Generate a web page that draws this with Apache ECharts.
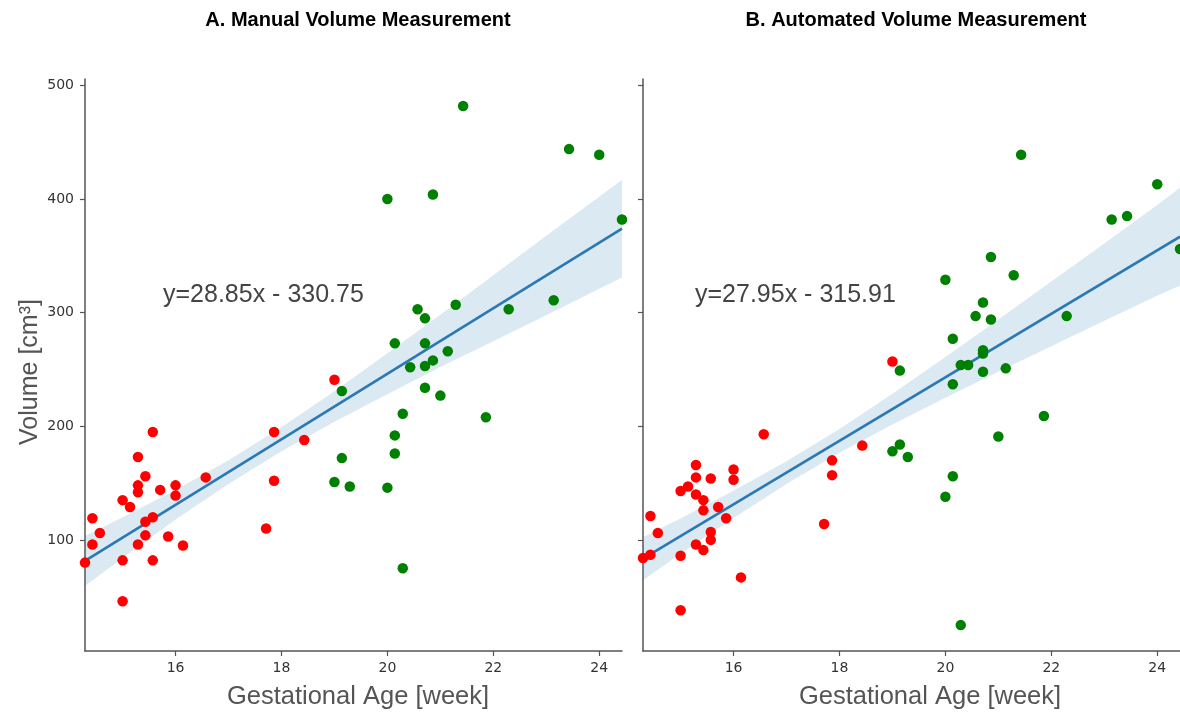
<!DOCTYPE html>
<html>
<head>
<meta charset="utf-8">
<script src="https://cdn.jsdelivr.net/npm/echarts@6/dist/echarts.min.js"></script>
<style>
  html, body { margin: 0; padding: 0; background: #ffffff; }
  #chart { width: 1180px; height: 715px; }
</style>
</head>
<body>
<div id="chart"></div>
<script>
// Axis ticks
const weekTicks = [16, 18, 20, 22, 24];
const volumeTicks = [100, 200, 300, 400, 500];

// Panel titles and fitted lines
const panelTitles = ['A. Manual Volume Measurement', 'B. Automated Volume Measurement'];
const fitSlope = [28.85, 27.95];
const fitIntercept = [-330.75, -315.91];

// Manual measurement: [gestational week, volume cm3]
const manualEarly = [
  [14.29, 80], [14.43, 119], [14.43, 96], [14.57, 106], [15.00, 135], [15.00, 82], [15.00, 46],
  [15.14, 129], [15.29, 173], [15.29, 148], [15.29, 142], [15.29, 96], [15.43, 156], [15.43, 116],
  [15.43, 104], [15.57, 195], [15.57, 120], [15.57, 82], [15.71, 144], [15.86, 103], [16.00, 148],
  [16.00, 139], [16.14, 95], [16.57, 155], [17.71, 110], [17.86, 195], [17.86, 152], [18.43, 188],
  [19.00, 241]
];
const manualLate = [
  [19.00, 151], [19.14, 231], [19.14, 172], [19.29, 147], [20.00, 400], [20.00, 146], [20.14, 273],
  [20.14, 192], [20.14, 176], [20.29, 211], [20.29, 75], [20.43, 252], [20.57, 303], [20.71, 295],
  [20.71, 273], [20.71, 253], [20.71, 234], [20.86, 404], [20.86, 258], [21.00, 227], [21.14, 266],
  [21.29, 307], [21.43, 482], [21.86, 208], [22.29, 303], [23.14, 311], [23.43, 444], [24.00, 439],
  [24.43, 382]
];

// Automated measurement: [gestational week, volume cm3]
const autoEarly = [
  [14.29, 84], [14.43, 87], [14.43, 121], [14.57, 106], [15.00, 143], [15.14, 147], [15.00, 86],
  [15.00, 38], [15.29, 166], [15.29, 155], [15.29, 140], [15.29, 96], [15.43, 135], [15.43, 126],
  [15.43, 91], [15.57, 154], [15.57, 107], [15.57, 100], [15.71, 129], [15.86, 119], [16.00, 162],
  [16.00, 153], [16.14, 67], [16.57, 193], [17.71, 114], [17.86, 170], [17.86, 157], [18.43, 183],
  [19.00, 257]
];
const autoLate = [
  [19.00, 178], [19.14, 249], [19.14, 184], [19.29, 173], [20.00, 329], [20.00, 138], [20.14, 277],
  [20.14, 237], [20.14, 156], [20.29, 254], [20.29, 25], [20.43, 254], [20.57, 297], [20.71, 309],
  [20.71, 267], [20.71, 264], [20.71, 248], [20.86, 349], [20.86, 294], [21.00, 191], [21.14, 251],
  [21.29, 333], [21.43, 439], [21.86, 209], [22.29, 297], [23.14, 382], [23.43, 385], [24.00, 413],
  [24.43, 356]
];

// Confidence band half-widths (cm3) around each fitted line
const bandWeeks = [14.29, 15, 16, 17, 18, 19, 20, 21, 22, 23, 24, 24.43];
const manualBandHalf = [22, 18, 13, 10.5, 10.5, 13.5, 18, 23, 29, 35, 40.5, 43];
const autoBandHalf = [19, 15.5, 12, 10, 10.5, 13.5, 18, 23, 28.5, 34, 40, 43];

const WEEK_MIN = 14.29, WEEK_MAX = 24.43;
const VOL_MIN = 2.2, VOL_MAX = 505.7;

const axisColor = '#555555';
const tickFont = { fontFamily: 'DejaVu Sans', fontSize: 14, color: '#333333' };
const sansFont = 'Liberation Sans, Arial, Helvetica, sans-serif';

function fitAt(p, w) { return fitSlope[p] * w + fitIntercept[p]; }

function makeXAxis(idx) {
  return {
    type: 'value', gridIndex: idx, min: WEEK_MIN, max: WEEK_MAX,
    axisLine: { show: true, onZero: false, lineStyle: { color: axisColor, width: 1.5 } },
    axisTick: { show: true, length: 5, customValues: weekTicks, lineStyle: { color: axisColor, width: 1.2 } },
    axisLabel: Object.assign({ show: true, margin: 10, customValues: weekTicks }, tickFont),
    splitLine: { show: false }
  };
}
function makeYAxis(idx, showLabels) {
  return {
    type: 'value', gridIndex: idx, min: VOL_MIN, max: VOL_MAX,
    axisLine: { show: true, onZero: false, lineStyle: { color: axisColor, width: 1.5 } },
    axisTick: { show: true, length: 5, customValues: volumeTicks, lineStyle: { color: axisColor, width: 1.2 } },
    axisLabel: Object.assign({ show: showLabels, margin: 11, customValues: volumeTicks }, tickFont),
    splitLine: { show: false }
  };
}

// Shaded confidence band: one polygon built from the upper and lower edges
function bandSeries(p, halfArr) {
  const rows = bandWeeks.map((w, i) => [w, fitAt(p, w) - halfArr[i], fitAt(p, w) + halfArr[i]]);
  return {
    type: 'custom', xAxisIndex: p, yAxisIndex: p, silent: true, clip: true, z: 1,
    data: rows,
    encode: { x: 0, y: [1, 2] },
    renderItem: function (params, api) {
      if (params.dataIndex !== 0) return null;
      const upper = rows.map(r => api.coord([r[0], r[2]]));
      const lower = rows.map(r => api.coord([r[0], r[1]])).reverse();
      return {
        type: 'polygon',
        shape: { points: upper.concat(lower) },
        style: { fill: 'rgba(31,119,180,0.16)', stroke: null }
      };
    }
  };
}

function fitSeries(p) {
  return {
    type: 'line', xAxisIndex: p, yAxisIndex: p, symbol: 'none', silent: true, z: 2,
    lineStyle: { color: '#2b78b4', width: 2.6 },
    data: [[WEEK_MIN, fitAt(p, WEEK_MIN)], [WEEK_MAX, fitAt(p, WEEK_MAX)]]
  };
}

function dotSeries(p, data, color) {
  return {
    type: 'scatter', xAxisIndex: p, yAxisIndex: p, data: data, clip: true, z: 3,
    symbol: 'circle', symbolSize: 10.5, itemStyle: { color: color, opacity: 1 }
  };
}

function equationText(p) {
  return 'y=' + fitSlope[p].toFixed(2) + 'x - ' + Math.abs(fitIntercept[p]).toFixed(2);
}

const chart = echarts.init(document.getElementById('chart'), null, { renderer: 'canvas' });

chart.setOption({
  animation: false,
  backgroundColor: '#ffffff',
  title: [
    { text: panelTitles[0], left: 353, top: 5, textAlign: 'center',
      textStyle: { fontFamily: sansFont, fontSize: 20, fontWeight: 'bold', color: '#000000' } },
    { text: panelTitles[1], left: 911, top: 5, textAlign: 'center',
      textStyle: { fontFamily: sansFont, fontSize: 20, fontWeight: 'bold', color: '#000000' } }
  ],
  grid: [
    { left: 85, top: 79, width: 537, height: 572, containLabel: false, outerBoundsMode: 'none' },
    { left: 643, top: 79, width: 537, height: 572, containLabel: false, outerBoundsMode: 'none' }
  ],
  xAxis: [makeXAxis(0), makeXAxis(1)],
  yAxis: [makeYAxis(0, true), makeYAxis(1, false)],
  series: [
    bandSeries(0, manualBandHalf), fitSeries(0),
    dotSeries(0, manualEarly, '#ff0000'), dotSeries(0, manualLate, '#008000'),
    bandSeries(1, autoBandHalf), fitSeries(1),
    dotSeries(1, autoEarly, '#ff0000'), dotSeries(1, autoLate, '#008000')
  ],
  graphic: [
    { type: 'text', left: 163, top: 283, z: 10,
      style: { text: equationText(0), fontFamily: sansFont, fontSize: 25, fill: '#444444' } },
    { type: 'text', left: 695, top: 283, z: 10,
      style: { text: equationText(1), fontFamily: sansFont, fontSize: 25, fill: '#444444' } },
    { type: 'text', x: 358, y: 697, z: 10,
      style: { text: 'Gestational Age [week]', fontFamily: sansFont, fontSize: 25.5, fill: '#555555',
               align: 'center', verticalAlign: 'middle' } },
    { type: 'text', x: 930, y: 697, z: 10,
      style: { text: 'Gestational Age [week]', fontFamily: sansFont, fontSize: 25.5, fill: '#555555',
               align: 'center', verticalAlign: 'middle' } },
    { type: 'text', x: 30, y: 372, rotation: Math.PI / 2, z: 10,
      style: { text: 'Volume [cm³]', fontFamily: sansFont, fontSize: 25, fill: '#555555',
               align: 'center', verticalAlign: 'middle' } }
  ]
});
</script>
</body>
</html>
